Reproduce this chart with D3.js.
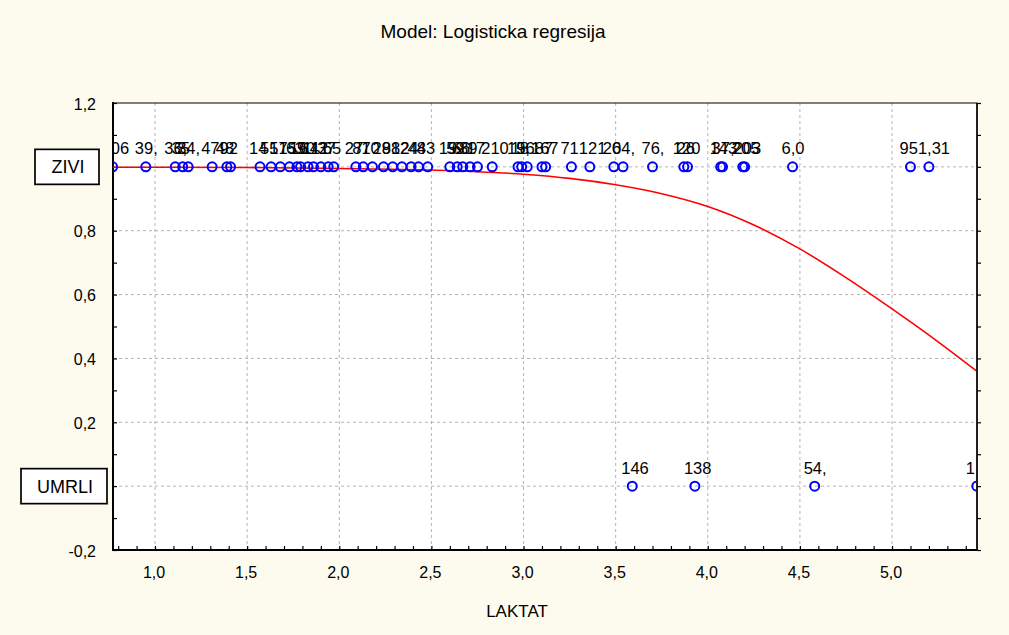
<!DOCTYPE html>
<html><head><meta charset="utf-8">
<script src="https://cdn.jsdelivr.net/npm/d3@7"></script>
<style>
html,body{margin:0;padding:0;background:#fdfbee;}
text{font-family:"Liberation Sans",Arial,sans-serif;fill:#000;}
</style></head>
<body>
<svg id="c" width="1009" height="635"></svg>
<script>
// ---- data ----
const title = "Model: Logisticka regresija";
const xLabel = "LAKTAT";
const categoryNames = ["ZIVI", "UMRLI"];
const categoryValues = [1, 0];
const ziviX = [0.77,0.95,1.11,1.15,1.18,1.31,1.39,1.41,1.57,1.63,1.68,1.73,1.77,1.79,1.83,1.86,1.90,1.94,1.97,2.09,2.13,2.18,2.24,2.29,2.34,2.39,2.43,2.48,2.60,2.64,2.67,2.71,2.75,2.83,2.97,2.99,3.02,3.10,3.12,3.26,3.36,3.49,3.54,3.70,3.87,3.89,4.07,4.08,4.19,4.20,4.46,5.10,5.20];
const ziviLabels = ["106","39,","36,","35","34,","47","48","92","14","51","57","15","63","16","90","11","42","37","65","27","81","70","28","98","12","24","44","83","19","59","66","89","17","210","15,","18","96","167","87","71","121","20","64,","76,","120","26","143","37,","205","203","6,0","95","1,31"];
const umrliX = [3.59, 3.93, 4.58, 5.46];
const umrliLabels = ["146","138","54,","1"];
// fitted logistic curve: [LAKTAT, p]
const curveX = [0.77,1.0,1.5,2.0,2.5,3.0,3.25,3.5,3.75,4.0,4.25,4.5,4.75,5.0,5.25,5.46];
const curveP = [0.999,0.999,0.998,0.995,0.990,0.977,0.964,0.944,0.916,0.876,0.818,0.743,0.653,0.555,0.452,0.360];
const xTicks = [1.0,1.5,2.0,2.5,3.0,3.5,4.0,4.5,5.0];
const yTicks = [-0.2,0,0.2,0.4,0.6,0.8,1.0,1.2];

// ---- layout ----
const svg = d3.select("#c");
const L = 113, R = 977, T = 103, B = 550;
const x = d3.scaleLinear().domain([0.772, 5.461]).range([L, R]);
const y = d3.scaleLinear().domain([-0.2, 1.2]).range([B, T]);
const fmt = v => d3.format(".1f")(v).replace(".", ",").replace("−","-");

svg.append("rect").attr("x", L).attr("y", T).attr("width", R - L).attr("height", B - T).attr("fill", "#fff");

svg.append("defs").append("clipPath").attr("id", "clip")
  .append("rect").attr("x", L).attr("y", T).attr("width", R - L - 1).attr("height", B - T);

// grid
const grid = svg.append("g").attr("stroke", "#b4b4b4").attr("stroke-width", 1).attr("stroke-dasharray", "3,3");
xTicks.forEach(v => grid.append("line").attr("x1", x(v)).attr("x2", x(v)).attr("y1", T).attr("y2", B));
yTicks.filter(v => v > -0.2 && v < 1.2).forEach(v => grid.append("line").attr("x1", L).attr("x2", R).attr("y1", y(v)).attr("y2", y(v)));

// axes
const minorX = d3.range(8, 55).map(i => i / 10).filter(v => v >= 0.772 && v <= 5.461);
const minorY = d3.range(-2, 13).map(i => i / 10);
const xAx = svg.append("g").attr("transform", `translate(0,${B})`)
  .call(d3.axisBottom(x).tickValues(minorX).tickSize(-4).tickFormat(""));
const yAx = svg.append("g").attr("transform", `translate(${L},0)`)
  .call(d3.axisLeft(y).tickValues(minorY).tickSize(-4).tickFormat(""));
const rAx = svg.append("g").attr("transform", `translate(${R},0)`)
  .call(d3.axisRight(y).tickValues(minorY).tickSize(4).tickFormat(""));
[xAx, yAx, rAx].forEach(g => { g.select(".domain").remove(); g.selectAll("line").attr("stroke", "#000").attr("stroke-width", 1.2); });

// frame
svg.append("rect").attr("x", L).attr("y", T).attr("width", R - L).attr("height", B - T)
  .attr("fill", "none").attr("stroke", "#000").attr("stroke-width", 1);
svg.append("line").attr("x1", L).attr("x2", L).attr("y1", T - 1).attr("y2", B + 1).attr("stroke", "#000").attr("stroke-width", 2);
svg.append("line").attr("x1", L - 1).attr("x2", R + 1).attr("y1", B).attr("y2", B).attr("stroke", "#000").attr("stroke-width", 2);
svg.append("line").attr("x1", R).attr("x2", R).attr("y1", T).attr("y2", B).attr("stroke", "#000").attr("stroke-width", 1.5);

// tick labels
svg.append("g").selectAll("text").data(xTicks).join("text")
  .attr("x", d => x(d) - 1).attr("y", 578).attr("text-anchor", "middle").attr("font-size", 16).text(fmt);
svg.append("g").selectAll("text").data(yTicks).join("text")
  .attr("x", 96).attr("y", d => y(d) + 6.5).attr("text-anchor", "end").attr("font-size", 16).text(fmt);

// curve
const plot = svg.append("g").attr("clip-path", "url(#clip)");
const line = d3.line().x(d => x(d[0])).y(d => y(d[1])).curve(d3.curveMonotoneX);
plot.append("path").datum(curveX.map((v, i) => [v, curveP[i]]))
  .attr("d", line).attr("fill", "none").attr("stroke", "#ff0000").attr("stroke-width", 1.6);

// points and labels
function drawSet(xs, labels, val) {
  plot.append("g").selectAll("circle").data(xs).join("circle")
    .attr("cx", d => x(d)).attr("cy", y(val)).attr("r", 4.5)
    .attr("fill", "none").attr("stroke", "#0000ff").attr("stroke-width", 2);
  plot.append("g").selectAll("text").data(xs).join("text")
    .attr("x", d => x(d) - 11).attr("y", y(val) - 12.5).attr("font-size", 16.5)
    .text((d, i) => labels[i]);
}
drawSet(ziviX, ziviLabels, categoryValues[0]);
drawSet(umrliX, umrliLabels, categoryValues[1]);

// category boxes
const boxes = [{x: 35, w: 64}, {x: 21, w: 86}];
categoryNames.forEach((n, i) => {
  const cy = y(categoryValues[i]);
  svg.append("rect").attr("x", boxes[i].x).attr("y", cy - 17.5).attr("width", boxes[i].w).attr("height", 35)
    .attr("fill", "#fff").attr("stroke", "#000").attr("stroke-width", 1.7);
  svg.append("text").attr("x", boxes[i].x + boxes[i].w / 2 + 1).attr("y", cy + 6.5)
    .attr("text-anchor", "middle").attr("font-size", 18).text(n);
});

// titles
svg.append("text").attr("x", 493).attr("y", 38).attr("text-anchor", "middle").attr("font-size", 19).text(title);
svg.append("text").attr("x", 517).attr("y", 617).attr("text-anchor", "middle").attr("font-size", 17).text(xLabel);
</script>
</body></html>
